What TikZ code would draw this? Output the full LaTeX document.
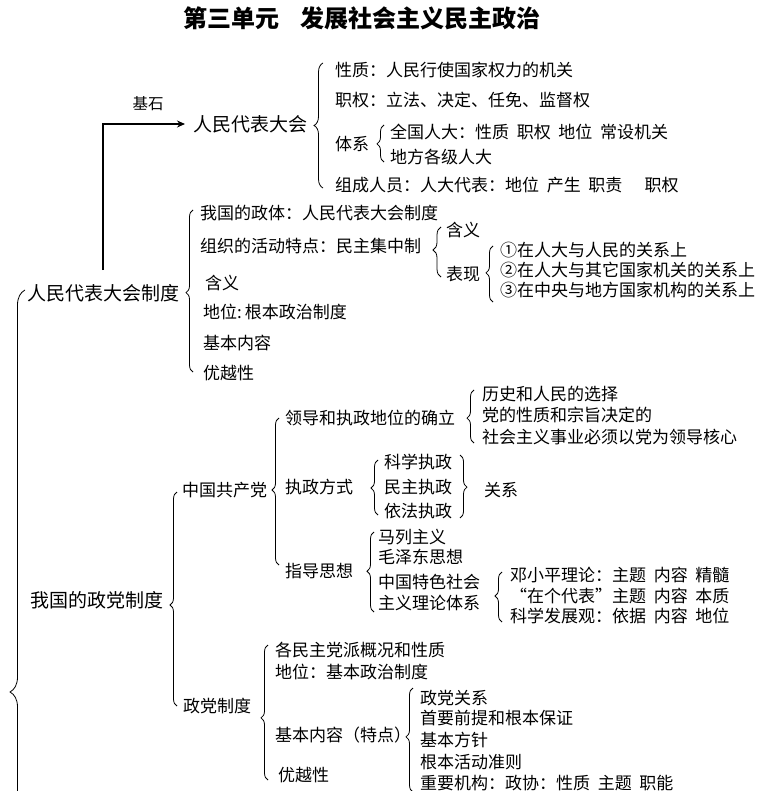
\documentclass[tikz,border=0pt]{standalone}
\usepackage{fontspec}
\setmainfont{Noto Sans CJK SC}
\usetikzlibrary{decorations.pathreplacing,arrows.meta}
\newcommand{\sgap}{\hspace{0.45em}}
\begin{document}
\begin{tikzpicture}[x=1pt,y=-1pt,
  txt/.style={anchor=west,inner sep=0pt,font=\fontsize{17}{19}\selectfont},
  head/.style={anchor=west,inner sep=0pt,font=\fontsize{19}{21}\selectfont},
  brc/.style 2 args={decorate,decoration={brace,amplitude=#1,aspect=#2},line width=0.8pt}]
\useasboundingbox (0,0) rectangle (761,791);
\clip (0,0) rectangle (761,791);
\fill[white] (0,0) rectangle (761,791);

% title
\node[inner sep=0pt,font=\fontsize{24}{26}\selectfont\bfseries] (title) at (362,18) {第三单元\hspace{22pt}发展社会主义民主政治};

% top branch
\node[head] (npc) at (193,124) {人民代表大会};
\coordinate (arrB) at (103,270);
\draw[line width=2pt,-{Stealth[length=8pt,width=7pt]}] (arrB) |- ([xshift=-8pt]npc.west);
\node[inner sep=0pt,font=\fontsize{15.5}{17}\selectfont] (jishi) at (148,104) {基石};

\draw[brc={9pt}{0.5}] (323,188) -- (323,63);
\node[txt] (xz) at (335,70) {性质：人民行使国家权力的机关};
\node[txt] (zq) at (335,100) {职权：立法、决定、任免、监督权};
\node[txt] (tx) at (335,144) {体系};
\draw[brc={7pt}{0.49}] (384,162) -- (384,125);
\node[txt] (qgrd) at (390,132) {全国人大：性质\sgap 职权\sgap 地位\sgap 常设机关};
\node[txt] (dfrd) at (390,157) {地方各级人大};
\node[txt] (zcry) at (335,185) {组成人员：人大代表：地位\sgap 产生\sgap 职责\hspace{1.3em}职权};

% 人民代表大会制度
\node[head] (rdzd) at (27,293) {人民代表大会制度};
\draw[brc={7pt}{0.49}] (193,372) -- (193,210);
\node[txt] (zt) at (200,213) {我国的政体：人民代表大会制度};
\node[txt] (zz) at (200,246) {组织的活动特点：民主集中制};
\node[txt] (hy) at (205,283) {含义};
\node[txt] (dw) at (203,312) {地位:\,根本政治制度};
\node[txt] (jbnr1) at (203,343) {基本内容};
\node[txt] (yyx1) at (203,373) {优越性};
\draw[brc={8pt}{0.54}] (441,277) -- (441,227);
\node[txt] (hy2) at (446,230) {含义};
\node[txt] (bx) at (446,274) {表现};
\draw[brc={7pt}{0.52}] (493,302) -- (493,246);
\node[txt] (bx1) at (500,250) {①在人大与人民的关系上};
\node[txt] (bx2) at (500,270) {②在人大与其它国家机关的关系上};
\node[txt] (bx3) at (500,290) {③在中央与地方国家机构的关系上};

% big left brace
\draw[brc={15pt}{0.341}] (25,900) -- (25,290);

% 我国的政党制度
\node[head] (zdzd) at (30,600) {我国的政党制度};
\draw[brc={7pt}{0.472}] (177,706) -- (177,492);
\node[txt] (gcd) at (182,490) {中国共产党};
\node[txt] (zdzd2) at (183,706) {政党制度};

\draw[brc={7pt}{0.51}] (279,565) -- (279,418);
\node[txt] (ldzz) at (285,418) {领导和执政地位的确立};
\draw[brc={7pt}{0.47}] (474,443) -- (474,390);
\node[txt] (ls1) at (482,394) {历史和人民的选择};
\node[txt] (ls2) at (482,415) {党的性质和宗旨决定的};
\node[txt] (ls3) at (482,437) {社会主义事业必须以党为领导核心};

\node[txt] (zzfs) at (285,487) {执政方式};
\draw[brc={7pt}{0.49}] (378,515) -- (378,460);
\node[txt] (kx) at (384,462) {科学执政};
\node[txt] (mz) at (384,487) {民主执政};
\node[txt] (yf) at (384,511) {依法执政};
\draw[brc={7pt}{0.51}] (460,455) -- (460,518);
\node[txt] (gx) at (484,490) {关系};

\node[txt] (zdsx) at (285,571) {指导思想};
\draw[brc={7pt}{0.51}] (374,612) -- (374,532);
\node[txt] (ml) at (378,537) {马列主义};
\node[txt] (mzd) at (378,557) {毛泽东思想};
\node[txt] (ts1) at (378,582) {中国特色社会};
\node[txt] (ts2) at (378,603) {主义理论体系};
\draw[brc={7pt}{0.52}] (502,622) -- (502,572);
\node[txt] (dxp) at (510,575) {邓小平理论：主题\sgap 内容\sgap 精髓};
\node[txt] (sgdb) at (510,596) {“在个代表”主题\sgap 内容\sgap 本质};
\node[txt] (kxfz) at (510,616) {科学发展观：依据\sgap 内容\sgap 地位};

\draw[brc={7pt}{0.46}] (268,780) -- (268,645);
\node[txt] (gmz) at (275,650) {各民主党派概况和性质};
\node[txt] (dw2) at (275,672) {地位：基本政治制度};
\node[txt] (jbnr2) at (275,735) {基本内容（特点）};
\node[txt] (yyx2) at (278,775) {优越性};
\draw[brc={7pt}{0.53}] (413,792) -- (413,688);
\node[txt] (dg1) at (420,698) {政党关系};
\node[txt] (dg2) at (420,718) {首要前提和根本保证};
\node[txt] (dg3) at (420,740) {基本方针};
\node[txt] (dg4) at (420,762) {根本活动准则};
\node[txt] (dg5) at (420,783) {重要机构：政协：性质\sgap 主题\sgap 职能};
\end{tikzpicture}
\end{document}
